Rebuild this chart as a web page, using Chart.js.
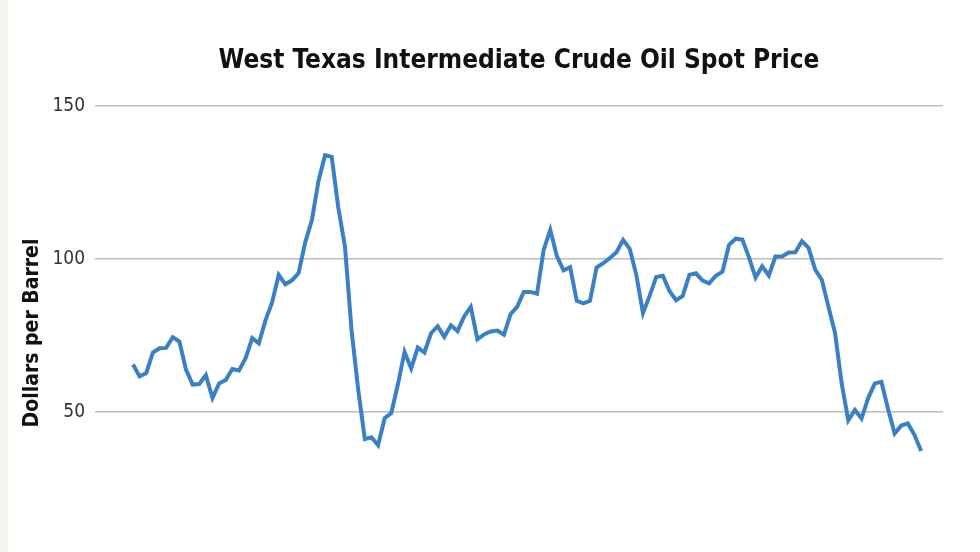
<!DOCTYPE html>
<html>
<head>
<meta charset="utf-8">
<script src="https://cdn.jsdelivr.net/npm/chart.js@4"></script>
<style>
  html, body { margin: 0; padding: 0; background: #ffffff; }
  #wrap { width: 980px; height: 552px; position: relative;
          background: linear-gradient(to right, #f5f5f0 0, #f5f5f0 7px, #ffffff 9px); }
</style>
</head>
<body>
<div id="wrap"><canvas id="chart-wti"></canvas></div>
<script>
// monthly WTI spot price, Jan 2006 - Dec 2015
const years = [2006, 2007, 2008, 2009, 2010, 2011, 2012, 2013, 2014, 2015];
const monthNames = ['Jan', 'Feb', 'Mar', 'Apr', 'May', 'Jun', 'Jul', 'Aug', 'Sep', 'Oct', 'Nov', 'Dec'];

const price2006 = [65.5, 61.6, 62.7, 69.4, 70.8, 70.9, 74.4, 73.0, 63.8, 58.9, 59.1, 62.0];
const price2007 = [54.5, 59.3, 60.4, 64.0, 63.5, 67.5, 74.1, 72.4, 79.9, 85.8, 94.8, 91.7];
const price2008 = [93.0, 95.4, 105.4, 112.6, 125.4, 133.9, 133.4, 116.7, 104.1, 76.6, 57.3, 41.1];
const price2009 = [41.7, 39.1, 47.9, 49.6, 59.0, 69.6, 64.2, 71.0, 69.4, 75.7, 78.0, 74.5];
const price2010 = [78.3, 76.4, 81.2, 84.3, 73.7, 75.3, 76.3, 76.6, 75.2, 81.9, 84.3, 89.2];
const price2011 = [89.2, 88.6, 102.9, 109.5, 100.9, 96.3, 97.3, 86.3, 85.5, 86.3, 97.2, 98.6];
const price2012 = [100.3, 102.2, 106.2, 103.3, 94.7, 82.3, 87.9, 94.1, 94.5, 89.5, 86.5, 87.9];
const price2013 = [94.8, 95.3, 92.9, 92.0, 94.5, 95.8, 104.6, 106.6, 106.3, 100.5, 93.9, 97.6];
const price2014 = [94.6, 100.8, 100.8, 102.1, 102.2, 105.8, 103.6, 96.5, 93.2, 84.4, 75.8, 59.3];
const price2015 = [47.2, 50.6, 47.8, 54.5, 59.3, 59.8, 50.9, 42.9, 45.5, 46.2, 42.4, 37.2];

const yTicks = [50, 100, 150];

const prices = [].concat(price2006, price2007, price2008, price2009, price2010,
                         price2011, price2012, price2013, price2014, price2015);
const labels = [];
years.forEach(y => monthNames.forEach(m => labels.push(m + ' ' + y)));

const points = prices.map((v, i) => ({ x: i, y: v }));

const narrow = "'DejaVu Sans Condensed', 'Liberation Sans', sans-serif";

// y axis title sits lower than the middle of the axis, so it is drawn here
const yLabelPlugin = {
    id: 'yLabel',
    afterDraw(chart) {
        const c = chart.ctx;
        c.save();
        c.translate(33, 333);
        c.rotate(-Math.PI / 2);
        c.font = "bold 21px " + narrow;
        c.fillStyle = '#111111';
        c.textAlign = 'center';
        c.textBaseline = 'middle';
        c.fillText('Dollars per Barrel', 0, 0);
        c.restore();
    }
};

const ctx = document.getElementById('chart-wti').getContext('2d');
const myChart = new Chart(ctx, {
    type: 'line',
    data: {
        labels: labels,
        datasets: [{
            label: 'WTI spot price',
            data: points,
            borderColor: '#3a80c5',
            borderWidth: 4,
            tension: 0,
            pointRadius: 0,
            fill: false
        }]
    },
    options: {
        responsive: true,
        maintainAspectRatio: false,
        animation: false,
        layout: {
            padding: { left: 8, right: 37, top: 0, bottom: 79 }
        },
        plugins: {
            legend: { display: false },
            tooltip: { enabled: false },
            title: {
                display: true,
                fullSize: false,
                text: 'West Texas Intermediate Crude Oil Spot Price',
                color: '#111111',
                font: { family: narrow, size: 26, weight: 'bold', lineHeight: 1.2 },
                padding: { top: 46, bottom: 28.8 }
            }
        },
        scales: {
            x: {
                type: 'linear',
                display: false,
                min: -5.74,
                max: 122.3
            },
            y: {
                min: 30,
                max: 150,
                border: { display: false },
                grid: {
                    color: '#bdbdbd',
                    lineWidth: 1.5,
                    drawTicks: true,
                    tickLength: 8,
                    tickColor: 'rgba(0,0,0,0)'
                },
                afterBuildTicks: axis => {
                    axis.ticks = yTicks.map(v => ({ value: v }));
                },
                afterFit: scale => {
                    scale.width = 87;
                },
                ticks: {
                    color: '#333333',
                    padding: 2,
                    font: { family: narrow, size: 19 }
                }
            }
        }
    },
    plugins: [yLabelPlugin]
});
</script>
</body>
</html>
